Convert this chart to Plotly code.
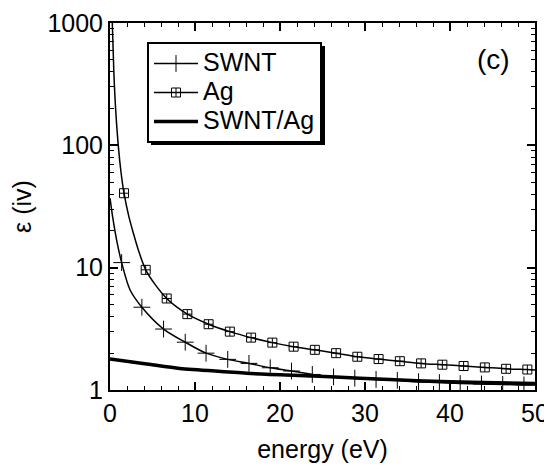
import plotly.graph_objects as go

# ---- data ----
# Ag curve (line) and its marker points
ag_curve_x = [0.27, 0.45, 0.65, 1.0, 1.3, 1.65, 2.2, 2.75, 3.4, 4.2, 5.3, 6.67, 7.8, 9.1,
              11.6, 14.1, 16.6, 19.1, 21.6, 24.1, 26.6, 29.1, 31.6, 34.1, 36.6, 39.1,
              41.6, 44.1, 46.6, 49.1, 50.0]
ag_curve_y = [1000, 400, 205, 95, 60, 40.6, 26.5, 19.1, 13.5, 9.6, 7.3, 5.6, 4.8, 4.17,
              3.45, 3.0, 2.68, 2.44, 2.26, 2.13, 2.0, 1.87, 1.79, 1.72, 1.65, 1.61,
              1.57, 1.53, 1.49, 1.47, 1.46]
ag_mark_x = [1.65, 4.2, 6.67, 9.1, 11.6, 14.1, 16.6, 19.1, 21.6, 24.1, 26.6, 29.1,
             31.6, 34.1, 36.6, 39.1, 41.6, 44.1, 46.6, 49.1]
ag_mark_y = [40.6, 9.6, 5.6, 4.17, 3.45, 3.0, 2.68, 2.44, 2.26, 2.13, 2.0, 1.87,
             1.79, 1.72, 1.65, 1.61, 1.57, 1.53, 1.49, 1.47]

# SWNT curve and marker points
swnt_curve_x = [0.0, 0.35, 0.78, 1.37, 2.35, 3.75, 6.3, 8.85, 11.3, 13.85, 16.35, 18.85,
                21.35, 23.8, 26.3, 28.8, 31.3, 33.8, 36.3, 38.75, 41.2, 43.7, 46.2,
                48.7, 50.0]
swnt_curve_y = [37, 25, 16.8, 11, 6.6, 4.75, 3.15, 2.46, 2.0, 1.78, 1.65, 1.52,
                1.43, 1.34, 1.28, 1.25, 1.22, 1.20, 1.17, 1.15, 1.13, 1.12, 1.11,
                1.10, 1.10]
swnt_mark_x = [1.37, 3.75, 6.3, 8.85, 11.3, 13.85, 16.35, 18.85, 21.35, 23.8, 26.3,
               28.8, 31.3, 33.8, 36.3, 38.75, 41.2, 43.7, 46.2, 48.7]
swnt_mark_y = [11, 4.75, 3.15, 2.46, 2.0, 1.78, 1.65, 1.52, 1.43, 1.34, 1.28,
               1.25, 1.22, 1.20, 1.17, 1.15, 1.13, 1.12, 1.11, 1.10]

# SWNT/Ag composite
comp_x = [0.0, 4.1, 8.2, 10.6, 16.1, 23.9, 29.4, 36.1, 43.9, 50.0]
comp_y = [1.79, 1.64, 1.5, 1.46, 1.37, 1.30, 1.25, 1.19, 1.15, 1.13]

x_ticks = [0, 10, 20, 30, 40, 50]
y_ticks = [1, 10, 100, 1000]
series_names = ["SWNT", "Ag", "SWNT/Ag"]

FONT = "Liberation Sans, Arial, sans-serif"
BLACK = "black"

fig = go.Figure()

# real data traces (no legend)
fig.add_trace(go.Scatter(x=swnt_curve_x, y=swnt_curve_y, mode="lines",
                         line=dict(color=BLACK, width=1.5, shape="spline", smoothing=0.8),
                         showlegend=False, hoverinfo="skip"))
fig.add_trace(go.Scatter(x=swnt_mark_x, y=swnt_mark_y, mode="markers",
                         marker=dict(symbol="cross-thin", size=12,
                                     line=dict(color=BLACK, width=1)),
                         showlegend=False))
fig.add_trace(go.Scatter(x=ag_curve_x, y=ag_curve_y, mode="lines",
                         line=dict(color=BLACK, width=1.5, shape="spline", smoothing=0.8),
                         showlegend=False, hoverinfo="skip"))
fig.add_trace(go.Scatter(x=ag_mark_x, y=ag_mark_y, mode="markers",
                         marker=dict(symbol="square-cross-open", size=9, color=BLACK,
                                     line=dict(color=BLACK, width=1)),
                         showlegend=False))
fig.add_trace(go.Scatter(x=comp_x, y=comp_y, mode="lines",
                         line=dict(color=BLACK, width=3.5, shape="spline", smoothing=0.8),
                         showlegend=False))

# legend entries
LEG_TXT = '<span style="font-size:25px">{}</span>'
fig.add_trace(go.Scatter(x=[None], y=[None], mode="lines+markers",
                         name=LEG_TXT.format(series_names[0]),
                         line=dict(color=BLACK, width=1.5),
                         marker=dict(symbol="cross-thin", size=12,
                                     line=dict(color=BLACK, width=1))))
fig.add_trace(go.Scatter(x=[None], y=[None], mode="lines+markers",
                         name=LEG_TXT.format(series_names[1]),
                         line=dict(color=BLACK, width=1.5),
                         marker=dict(symbol="square-cross-open", size=9, color=BLACK,
                                     line=dict(color=BLACK, width=1))))
fig.add_trace(go.Scatter(x=[None], y=[None], mode="lines",
                         name=LEG_TXT.format(series_names[2]),
                         line=dict(color=BLACK, width=3.5)))

# page is rendered with an 8px body margin -> figure origin at (8, 8)
OFF = 8
W, H = 552 - OFF, 470 - OFF
L, R, T, B = 110 - OFF, 17, 23 - OFF, 80
pw, ph = W - L - R, H - T - B


def px2paper(px, py):
    """page pixel -> paper coords"""
    return (px - OFF - L) / pw, (H - B - (py - OFF)) / ph


lx, ly = px2paper(147, 42)
sx0, sy0 = px2paper(151, 46)
sx1, sy1 = px2paper(325, 145)

fig.add_shape(type="rect", xref="paper", yref="paper", x0=sx0, x1=sx1, y0=sy1, y1=sy0,
              fillcolor=BLACK, line=dict(width=0), layer="above")

cx, cy = px2paper(493, 59)
fig.add_annotation(text="(c)", xref="paper", yref="paper", x=cx, y=cy, showarrow=False,
                   xanchor="center", yanchor="middle",
                   font=dict(family=FONT, size=28, color=BLACK))

axis_common = dict(showline=True, linecolor=BLACK, linewidth=2, mirror="allticks",
                   ticks="inside", tickcolor=BLACK, tickwidth=1.5, ticklen=8,
                   showgrid=False, zeroline=False, automargin=False,
                   tickfont=dict(family=FONT, size=25, color=BLACK))

fig.update_xaxes(range=[0, 50], tickvals=x_ticks,
                 minor=dict(ticks="inside", ticklen=4, tickwidth=1, tickcolor=BLACK,
                            dtick=2, showgrid=False),
                 title=dict(text="energy (eV)", font=dict(family=FONT, size=25, color=BLACK),
                            standoff=14),
                 **axis_common)
fig.update_yaxes(type="log", range=[0, 3], tickvals=y_ticks, ticktext=[str(v) for v in y_ticks],
                 minor=dict(ticks="inside", ticklen=4, tickwidth=1, tickcolor=BLACK,
                            dtick="D1", showgrid=False),
                 title=dict(text="ε (iv)", font=dict(family=FONT, size=25, color=BLACK),
                            standoff=18),
                 **axis_common)

fig.update_layout(
    width=W, height=H,
    margin=dict(l=L, r=R, t=T, b=B),
    paper_bgcolor="white", plot_bgcolor="white",
    font=dict(family=FONT, size=25, color=BLACK),
    legend=dict(x=lx, y=ly, xanchor="left", yanchor="top",
                bgcolor="white", bordercolor=BLACK, borderwidth=2,
                font=dict(family=FONT, size=20, color=BLACK),
                tracegroupgap=0, itemwidth=44),
    showlegend=True,
)

fig.write_html("out.html")
